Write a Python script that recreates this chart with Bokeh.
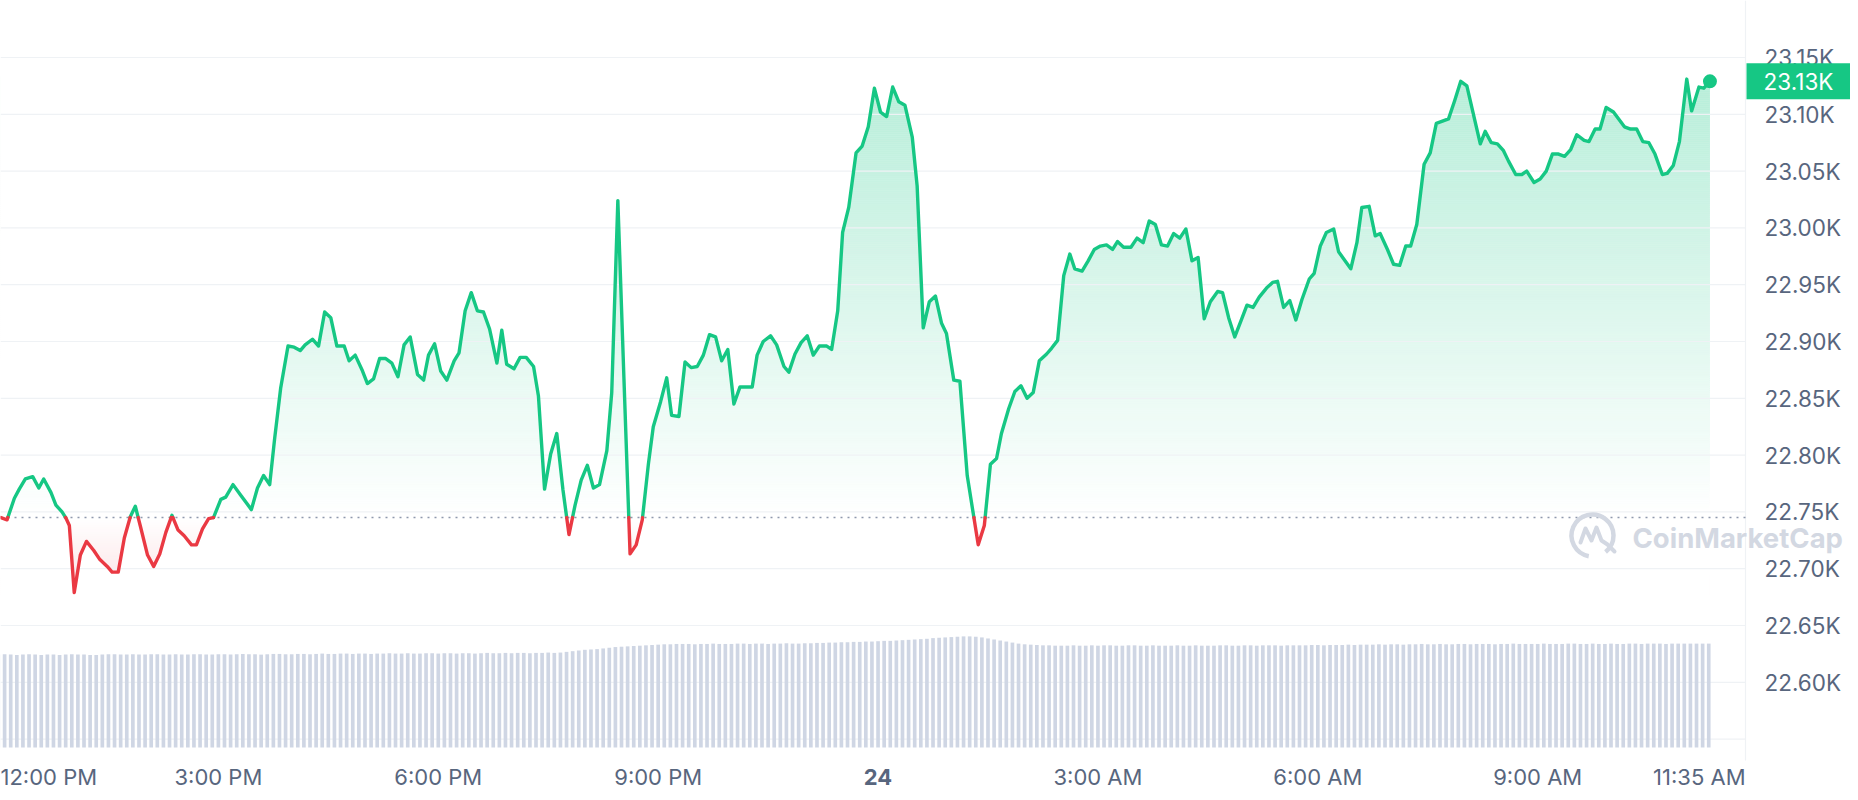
import numpy as np
from bokeh.plotting import figure
from bokeh.models import Range1d
from bokeh.core.properties import value
from bokeh.embed import file_html
from bokeh.resources import INLINE

# ---------------- data (minutes since 12:00 PM, price in USD) ----------------
t_min = [2, 7, 13, 17, 22, 28, 33, 37, 43, 47, 52, 55, 58, 62, 67, 72, 78, 83, 89, 93,
         98, 103, 108, 112, 116, 122, 127, 132, 137, 142, 147, 152, 158, 162, 167, 172, 176, 182, 186, 192,
         198, 207, 212, 217, 222, 226, 231, 237, 242, 247, 251, 257, 262, 267, 272, 277, 283, 287, 292, 298,
         302, 307, 312, 317, 322, 327, 332, 337, 343, 348, 352, 357, 362, 367,
         373, 377, 382, 387, 392, 397, 402, 408, 412, 416, 422, 427, 432, 438, 442, 447, 452, 457, 462, 467,
         472, 477, 482, 487, 492, 498, 502, 507, 512, 517, 522, 527, 532, 536, 542, 547, 551, 557, 562, 567,
         572, 577, 582, 587, 592, 597, 602, 607, 612, 617, 621, 626, 632, 637, 643, 647, 652, 657, 662, 667,
         672, 678, 682, 687, 691, 696, 702, 707, 712, 717, 722, 727,
         732, 737, 742, 748, 752, 757, 762, 767, 772, 776, 782, 787, 793, 802, 807, 812, 817, 821, 827, 832,
         837, 842, 847, 852, 858, 862, 867, 872, 877, 881, 887, 892, 897, 902, 907, 912, 916, 921, 927, 932,
         937, 942, 947, 952, 957, 962, 967, 972, 977, 982, 987, 992, 998, 1002, 1007, 1012, 1017, 1022, 1027, 1032,
         1038, 1043, 1047, 1052, 1057, 1062, 1067, 1073, 1077, 1082, 1087,
         1093, 1097, 1103, 1107, 1112, 1116, 1122, 1127, 1131, 1137, 1142, 1147, 1152, 1156, 1161, 1167, 1172, 1177, 1182, 1187,
         1192, 1197, 1202, 1208, 1213, 1217, 1222, 1227, 1232, 1236, 1242, 1247, 1251, 1257, 1262, 1267, 1272, 1277, 1282, 1287,
         1292, 1298, 1302, 1307, 1311, 1316, 1322, 1331, 1336, 1341, 1346, 1351, 1356, 1362, 1366, 1371, 1376, 1382, 1386, 1392,
         1396, 1401]

price = [22745, 22743, 22762, 22770, 22779, 22781, 22771, 22779, 22767, 22756, 22750, 22745, 22738, 22679, 22712, 22724, 22716, 22708, 22702, 22697,
         22697, 22727, 22746, 22755, 22738, 22712, 22702, 22713, 22732, 22747, 22734, 22729, 22721, 22721, 22735, 22744, 22745, 22761, 22763, 22774,
         22765, 22752, 22771, 22782, 22774, 22814, 22859, 22896, 22895, 22892, 22897, 22902, 22896, 22926, 22921, 22896, 22896, 22883, 22888, 22874,
         22863, 22867, 22885, 22885, 22881, 22869, 22897, 22904, 22871, 22866, 22888, 22898, 22874, 22866,
         22883, 22890, 22927, 22943, 22927, 22926, 22911, 22881, 22910, 22880, 22876, 22886, 22886, 22878, 22852, 22770, 22801, 22819, 22770, 22730,
         22756, 22778, 22791, 22771, 22774, 22804, 22855, 23024, 22867, 22713, 22721, 22743, 22792, 22825, 22847, 22868, 22835, 22834, 22882, 22877,
         22878, 22888, 22906, 22904, 22883, 22893, 22845, 22860, 22860, 22860, 22888, 22900, 22905, 22897, 22878, 22873, 22889, 22899, 22905, 22888,
         22896, 22896, 22893, 22927, 22996, 23018, 23066, 23072, 23089, 23123, 23102, 23098,
         23124, 23111, 23108, 23080, 23037, 22912, 22935, 22940, 22916, 22907, 22866, 22865, 22782, 22721, 22738, 22792, 22797, 22819, 22841, 22856,
         22861, 22850, 22855, 22883, 22889, 22894, 22901, 22958, 22977, 22964, 22962, 22971, 22981, 22984, 22985, 22981, 22988, 22983, 22983, 22991,
         22987, 23006, 23003, 22985, 22984, 22995, 22991, 22999, 22971, 22974, 22920, 22935, 22944, 22943, 22921, 22904, 22918, 22932, 22930, 22939,
         22947, 22952, 22953, 22930, 22936, 22919, 22937, 22955, 22960, 22984, 22996,
         22999, 22979, 22970, 22964, 22987, 23018, 23019, 22993, 22995, 22981, 22968, 22967, 22984, 22984, 23003, 23056, 23066, 23092, 23094, 23096,
         23112, 23129, 23125, 23097, 23074, 23085, 23075, 23074, 23068, 23059, 23047, 23047, 23050, 23040, 23043, 23050, 23065, 23065, 23063, 23069,
         23082, 23077, 23076, 23087, 23087, 23106, 23102, 23089, 23087, 23087, 23076, 23075, 23065, 23047, 23048, 23055, 23076, 23131, 23103, 23124,
         23123, 23129]

# 24h volume (billions USD), one bar per 5 minutes from 12:00 PM
volume_b = [
    27.0, 27.1, 27.0, 26.9, 27.0, 27.1, 27.0, 26.9, 27.0, 27.0, 26.9, 27.0,
    27.1, 27.0, 27.0, 26.9, 26.9, 27.0, 27.1, 27.1, 27.0, 27.0, 27.1, 27.0,
    27.0, 27.1, 27.1, 27.0, 27.0, 27.1, 27.0, 27.0, 27.1, 27.1, 27.0, 27.0,
    27.1, 27.1, 27.0, 27.1, 27.2, 27.1, 27.1, 27.0, 27.1, 27.2, 27.2, 27.1,
    27.1, 27.2, 27.2, 27.1, 27.2, 27.3, 27.2, 27.2, 27.3, 27.3, 27.2, 27.3,
    27.3, 27.2, 27.3, 27.3, 27.4, 27.3, 27.3, 27.4, 27.3, 27.3, 27.4, 27.4,
    27.3, 27.4, 27.4, 27.3, 27.4, 27.4, 27.3, 27.4, 27.5, 27.4, 27.4, 27.5,
    27.4, 27.5, 27.5, 27.4, 27.5, 27.5, 27.6, 27.5, 27.6, 27.8, 28.0, 28.2,
    28.4, 28.5, 28.6, 28.8, 29.0, 29.2, 29.3, 29.4, 29.5, 29.6, 29.7, 29.8,
    29.9, 30.0, 30.0, 30.1, 30.1, 30.1, 30.0, 30.1, 30.1, 30.2, 30.1, 30.1,
    30.1, 30.2, 30.2, 30.1, 30.2, 30.2, 30.1, 30.2, 30.2, 30.3, 30.2, 30.2,
    30.3, 30.3, 30.4, 30.4, 30.5, 30.5, 30.6, 30.6, 30.7, 30.7, 30.8, 30.8,
    30.9, 31.0, 31.0, 31.1, 31.2, 31.3, 31.4, 31.5, 31.6, 31.8, 31.9, 32.0,
    32.1, 32.2, 32.3, 32.3, 32.2, 32.0, 31.7, 31.4, 31.1, 30.8, 30.5, 30.2,
    30.0, 29.9, 29.8, 29.7, 29.7, 29.6, 29.6, 29.6, 29.7, 29.6, 29.6, 29.7,
    29.6, 29.7, 29.7, 29.6, 29.6, 29.7, 29.7, 29.6, 29.6, 29.7, 29.6, 29.6,
    29.6, 29.7, 29.6, 29.6, 29.7, 29.6, 29.6, 29.6, 29.7, 29.7, 29.6, 29.6,
    29.7, 29.7, 29.6, 29.7, 29.7, 29.7, 29.6, 29.7, 29.7, 29.7, 29.7, 29.8,
    29.8, 29.7, 29.8, 29.8, 29.8, 29.9, 29.8, 29.9, 29.9, 29.9, 30.0, 29.9,
    30.0, 30.0, 29.9, 30.0, 30.0, 30.1, 30.0, 30.0, 30.1, 30.0, 30.0, 30.1,
    30.1, 30.0, 30.1, 30.1, 30.1, 30.0, 30.1, 30.1, 30.2, 30.1, 30.1, 30.1,
    30.1, 30.2, 30.1, 30.1, 30.1, 30.2, 30.2, 30.1, 30.1, 30.2, 30.1, 30.1,
    30.2, 30.1, 30.1, 30.2, 30.2, 30.1, 30.2, 30.2, 30.2, 30.1, 30.2, 30.2,
    30.2, 30.2, 30.2, 30.2, 30.2]
vol_step_min = 5

y_ticks = [22600, 22650, 22700, 22750, 22800, 22850, 22900, 22950, 23000, 23050, 23100, 23150]
y_tick_labels = ["22.60K", "22.65K", "22.70K", "22.75K", "22.80K", "22.85K",
                 "22.90K", "22.95K", "23.00K", "23.05K", "23.10K", "23.15K"]
x_tick_min = [0, 180, 360, 540, 720, 900, 1080, 1260, 1415]
x_tick_labels = ["12:00 PM", "3:00 PM", "6:00 PM", "9:00 PM", "24", "3:00 AM", "6:00 AM", "9:00 AM", "11:35 AM"]
x_bold_label = "24"
last_price_label = "23.13K"
watermark = "CoinMarketCap"

# ---------------- layout (canvas pixels) ----------------
W, H = 1850, 792
MIN_PER_PX = 0.8186
X0 = 1.64
X1 = X0 + W * MIN_PER_PX
USD_PX = 0.8803
Y_TOP = 23150 + 57 * USD_PX
Y_BOT = Y_TOP - H * USD_PX
PLOT_R = 1745          # right edge of plotting area
VOL_PX = 3.44
VOL_ZERO_PX = 747
VOL_TOP = VOL_ZERO_PX / VOL_PX
VOL_BOT = -(H - VOL_ZERO_PX) / VOL_PX

GREEN = "#16c784"
RED = "#ea3943"
GRAY = "#58667e"
GRID = "#eff2f5"
FONT = "Inter"


def xdata(cx):
    return X0 + cx * MIN_PER_PX


def ydata(cy):
    return Y_TOP - cy * USD_PX


def yrow(v):
    return (Y_TOP - v) / USD_PX


p = figure(width=W, height=H, x_range=Range1d(X0, X1), y_range=Range1d(Y_BOT, Y_TOP),
           output_backend="svg", toolbar_location=None, y_axis_location=None,
           x_axis_location=None, min_border=0, background_fill_color="white",
           border_fill_color="white")
p.outline_line_color = None
p.grid.visible = False
p.extra_y_ranges = {"vol": Range1d(VOL_BOT, VOL_TOP)}

t = np.array(t_min, dtype=float)
pr = np.array(price, dtype=float)
B = pr[0]

# augment line with baseline crossings (geometry only)
ta, pa = [], []
for i in range(len(t)):
    ta.append(t[i]); pa.append(pr[i])
    if i < len(t) - 1 and (pr[i] - B) * (pr[i + 1] - B) < 0:
        f = (B - pr[i]) / (pr[i + 1] - pr[i])
        ta.append(t[i] + f * (t[i + 1] - t[i])); pa.append(B)
ta = np.array(ta); pa = np.array(pa)

G_TOP = pr.max()
R_BOT = pr.min()

# green vertical gradient: pixel-row aligned bands
STEP = 2
g_rows = np.arange(np.floor(yrow(G_TOP)) - 2, yrow(B), STEP)
g_top = ydata(g_rows)
g_bot = np.maximum(ydata(g_rows + STEP), B)
g_mid = (g_top + g_bot) / 2
g_alpha = np.clip(0.31 * (g_mid - B) / (G_TOP - B), 0, 1)
p.quad(left=t[0], right=t[-1], bottom=g_bot, top=g_top, fill_color=GREEN,
       fill_alpha=g_alpha, line_color=None)
# red gradient
r_rows = np.arange(np.ceil(yrow(R_BOT)) + 2, yrow(B), -STEP)
r_bot = ydata(r_rows)
r_top = np.minimum(ydata(r_rows - STEP), B)
r_mid = (r_top + r_bot) / 2
r_alpha = np.clip(0.14 * (B - r_mid) / (B - R_BOT), 0, 1)
p.quad(left=t[0], right=t[-1], bottom=r_bot, top=r_top, fill_color=RED,
       fill_alpha=r_alpha, line_color=None)
# masks (white above the line in the green zone, below the line in the red zone)
p.varea(x=ta, y1=np.maximum(pa, B), y2=G_TOP + 5, fill_color="white")
p.varea(x=ta, y1=R_BOT - 5, y2=np.minimum(pa, B), fill_color="white")

# grid lines
grid_vals = [22550] + y_ticks
p.segment(x0=X0, x1=xdata(PLOT_R), y0=grid_vals, y1=grid_vals, line_color=GRID, line_width=1.2)
p.segment(x0=xdata(PLOT_R), x1=xdata(PLOT_R), y0=Y_TOP, y1=ydata(760), line_color=GRID, line_width=1.2)

# volume bars
vol_t = np.arange(len(volume_b)) * vol_step_min
p.vbar(x=vol_t, top=volume_b, bottom=0, width=vol_step_min * 0.6, y_range_name="vol",
       fill_color="#cfd6e4", line_color=None)

# baseline dotted
p.segment(x0=X0, x1=xdata(PLOT_R), y0=B, y1=B, line_color="#8f99ad", line_width=1.6, line_dash="2 5")

# watermark logo + text
WM = "#d3d8e2"
lx, ly = xdata(1592), ydata(535)
p.arc(x=[lx], y=[ly], radius=21, radius_units="screen", start_angle=-0.9, end_angle=-1.75,
      direction="anticlock", line_width=4.5, line_color=WM)
offs = [(-12, 7), (-7, -7), (-1, 5), (4, -8), (9, 5), (15, 9), (22, 16)]
mx = [lx + dx * MIN_PER_PX for dx, dy in offs]
my = [ly - dy * USD_PX for dx, dy in offs]
p.line(mx, my, line_color=WM, line_width=4, line_join="round", line_cap="round")
p.text(x=[xdata(1632)], y=[ydata(537)], text=[watermark], text_baseline="middle",
       text_font=value(FONT), text_font_style="bold", text_font_size=value("27.5px"),
       text_color=WM)

# price line split
g_y = np.where(pa >= B, pa, np.nan)
r_y = np.where(pa <= B, pa, np.nan)
p.line(ta, g_y, line_color=GREEN, line_width=3.4, line_join="round", line_cap="round")
p.line(ta, r_y, line_color=RED, line_width=3.4, line_join="round", line_cap="round")
p.scatter(x=[t[-1]], y=[pr[-1]], size=14, fill_color=GREEN, line_color=None)

# y axis labels (right)
p.text(x=xdata(1764), y=y_ticks, text=y_tick_labels, text_baseline="middle", text_align="left",
       text_font=value(FONT), text_font_size=value("22.5px"), text_color=GRAY)

# x axis labels
ly_lab = ydata(776)
for i, (tm, lab) in enumerate(zip(x_tick_min, x_tick_labels)):
    if i == 0:
        xx, al = X0, "left"
    elif i == len(x_tick_min) - 1:
        xx, al = xdata(PLOT_R), "right"
    else:
        xx, al = tm, "center"
    bold = lab == x_bold_label
    p.text(x=[xx], y=[ly_lab], text=[lab], text_align=al, text_baseline="middle",
           text_font=value(FONT), text_font_size=value("22px"),
           text_color=GRAY, text_font_style="bold" if bold else "normal")

# last price tag
half_h = 18 * USD_PX
p.quad(left=xdata(PLOT_R + 1), right=xdata(1850), bottom=pr[-1] - half_h, top=pr[-1] + half_h,
       fill_color=GREEN, line_color=None)
p.text(x=[xdata(1798)], y=[pr[-1]], text=[last_price_label], text_align="center",
       text_baseline="middle", text_font=value(FONT), text_font_size=value("22.5px"),
       text_color="white")

open("out.html", "w").write(file_html(p, INLINE))
